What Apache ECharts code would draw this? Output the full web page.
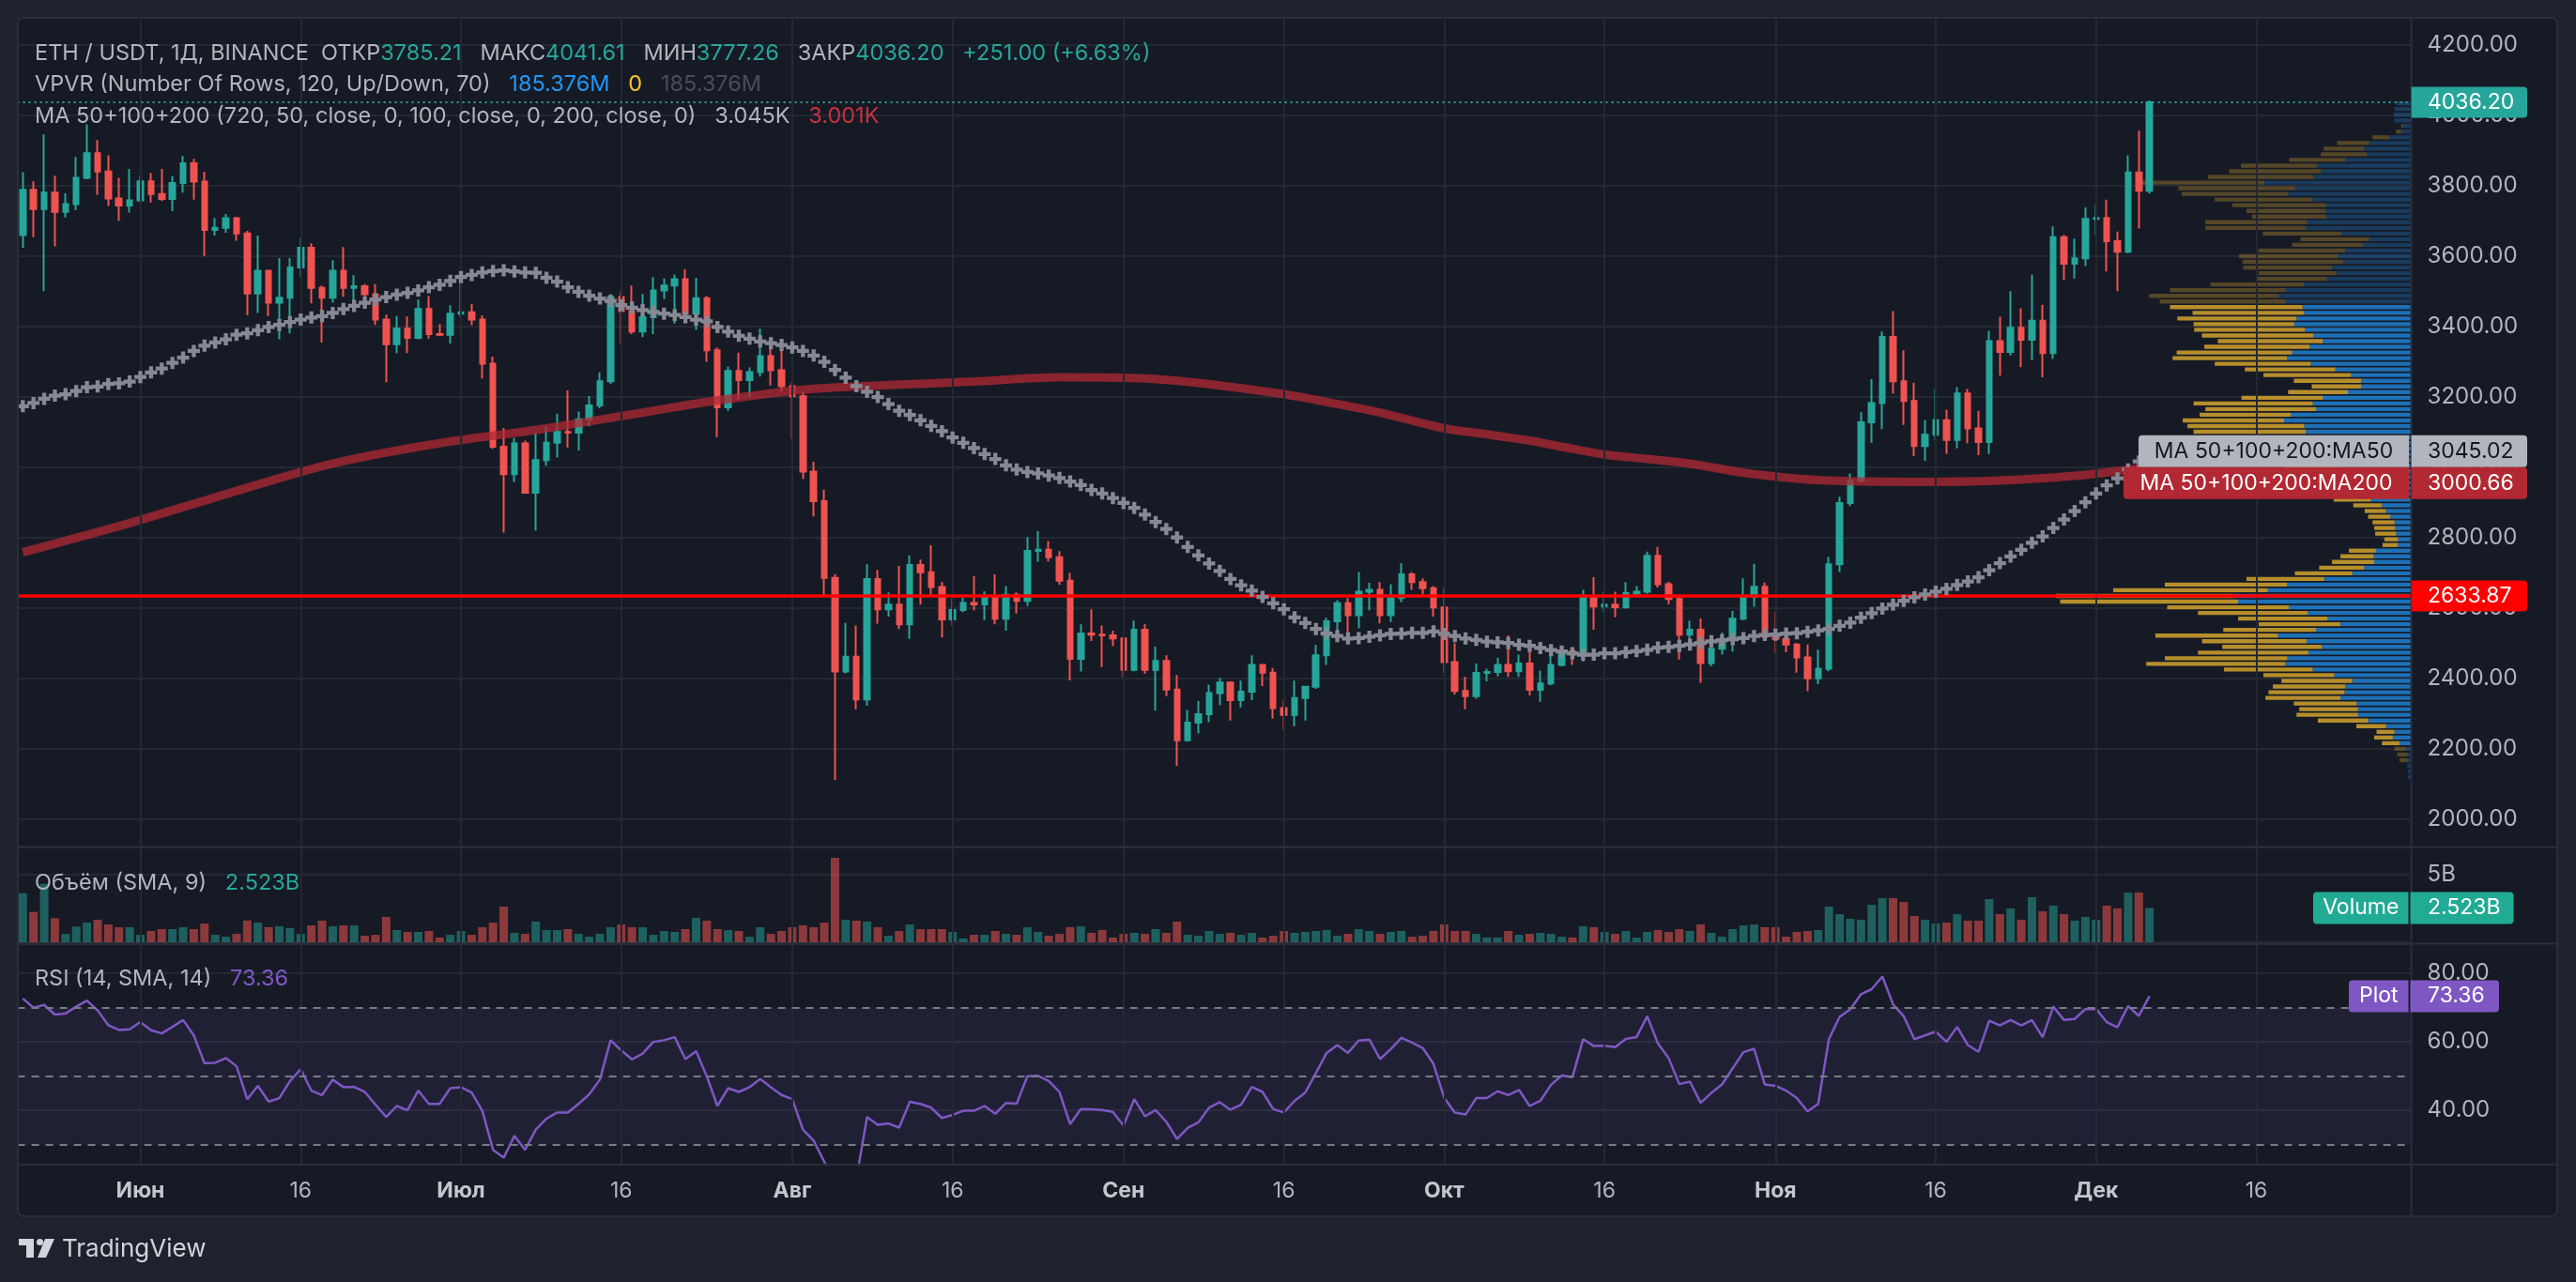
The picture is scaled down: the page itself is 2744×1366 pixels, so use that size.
<!DOCTYPE html>
<html>
<head>
<meta charset="utf-8">
<title>ETH / USDT</title>
<script src="https://cdn.jsdelivr.net/npm/echarts@6/dist/echarts.min.js"></script>
<style>
html, body { margin: 0; padding: 0; background: #1e222d; }
#chart { width: 2744px; height: 1366px; }
</style>
</head>
<body>
<div id="chart"></div>
<script>
var startDay = '2024-05-21';
var slotCount = 224;

var opens = [
    3659,3788,3733,3780,3725,3747,3822,3892,3840,3763, 3743,3758,3812,3776,3762,3807,3863,3811,3674,3680,
    3707,3664,3493,3558,3467,3481,3567,3623,3509,3481, 3558,3509,3514,3491,3419,3349,3394,3367,3449,3378,
    3376,3436,3440,3419,3294,3058,2980,3067,2927,3020, 3069,3100,3098,3136,3175,3244,3483,3443,3385,3426,
    3502,3516,3534,3436,3480,3332,3170,3273,3247,3270, 3315,3275,3230,3201,2987,2903,2685,2419,2461,2340,
    2682,2596,2609,2553,2722,2701,2659,2567,2594,2614, 2610,2629,2569,2637,2620,2762,2765,2744,2677,2455,
    2527,2524,2522,2513,2424,2538,2424,2449,2368,2224, 2274,2298,2358,2388,2338,2362,2438,2416,2315,2296,
    2344,2376,2465,2562,2613,2579,2646,2651,2579,2628, 2695,2673,2656,2601,2446,2364,2349,2415,2418,2438,
    2420,2442,2367,2385,2438,2477,2467,2628,2604,2609, 2602,2642,2646,2748,2667,2625,2524,2538,2443,2484,
    2511,2569,2631,2660,2518,2512,2496,2459,2400,2427, 2724,2898,2961,3127,3182,3370,3244,3188,3060,3092,
    3133,3077,3209,3110,3071,3358,3327,3396,3362,3416, 3324,3653,3578,3593,3705,3708,3642,3612,3837,3785.21
];
var highs = [
    3838,3812,3945,3828,3778,3881,3974,3929,3886,3822, 3847,3829,3836,3847,3827,3884,3876,3839,3708,3719,
    3711,3671,3658,3560,3594,3594,3652,3636,3516,3588, 3625,3545,3520,3520,3433,3429,3428,3476,3486,3406,
    3460,3527,3463,3431,3314,3111,3083,3075,3098,3116, 3152,3218,3158,3202,3269,3492,3499,3516,3492,3540,
    3536,3547,3562,3538,3486,3340,3285,3325,3283,3393, 3366,3347,3240,3214,3015,2936,2696,2557,2550,2724,
    2708,2644,2719,2749,2737,2778,2673,2627,2629,2690, 2647,2695,2662,2644,2801,2818,2790,2761,2700,2553,
    2596,2550,2535,2517,2564,2554,2490,2465,2409,2310, 2335,2382,2401,2391,2393,2465,2440,2429,2338,2393,
    2378,2495,2572,2622,2628,2702,2671,2673,2667,2727, 2702,2684,2662,2658,2500,2404,2442,2427,2458,2522,
    2467,2476,2422,2468,2489,2484,2651,2687,2646,2646, 2673,2662,2760,2773,2674,2634,2564,2570,2512,2530,
    2591,2684,2725,2672,2589,2527,2500,2496,2481,2745, 2916,2982,3156,3250,3385,3443,3332,3240,3133,3222,
    3163,3227,3222,3160,3387,3427,3500,3451,3547,3461, 3684,3660,3649,3738,3747,3760,3669,3886,3956,4041.61
];
var lows = [
    3623,3653,3500,3627,3709,3730,3818,3774,3742,3700, 3723,3752,3752,3756,3727,3780,3760,3600,3658,3666,
    3643,3432,3438,3429,3363,3380,3540,3465,3354,3467, 3484,3445,3474,3404,3241,3324,3324,3363,3365,3372,
    3351,3425,3403,3252,3052,2814,2958,2925,2820,3004, 3027,3056,3047,3116,3167,3236,3349,3378,3369,3378,
    3477,3408,3420,3390,3299,3085,3160,3191,3199,3257, 3232,3214,3080,2966,2860,2637,2111,2414,2312,2322,
    2555,2575,2540,2512,2609,2637,2516,2550,2588,2593, 2565,2553,2535,2584,2605,2731,2732,2666,2394,2419,
    2506,2432,2492,2403,2420,2413,2308,2349,2151,2220, 2243,2275,2323,2280,2317,2338,2378,2285,2253,2264,
    2280,2370,2438,2529,2522,2542,2593,2556,2560,2616, 2651,2638,2575,2415,2354,2311,2342,2391,2406,2404,
    2404,2351,2333,2380,2434,2438,2447,2538,2587,2573, 2598,2636,2640,2658,2610,2453,2512,2387,2434,2467,
    2476,2565,2603,2507,2471,2474,2416,2363,2383,2420, 2702,2889,2956,3069,3108,3209,3120,3031,3018,3077,
    3038,3053,3068,3034,3037,3260,3317,3284,3304,3255, 3307,3532,3536,3571,3660,3556,3500,3608,3678,3777.26
];
var closes = [
    3788,3733,3780,3725,3747,3822,3892,3840,3763,3743, 3758,3812,3776,3762,3807,3863,3811,3674,3680,3707,
    3664,3493,3558,3467,3481,3567,3623,3509,3481,3558, 3509,3514,3491,3419,3349,3394,3367,3449,3378,3376,
    3436,3440,3419,3294,3058,2980,3067,2927,3020,3069, 3100,3098,3136,3175,3244,3483,3443,3385,3426,3502,
    3516,3534,3436,3480,3332,3170,3273,3247,3270,3315, 3275,3230,3201,2987,2903,2685,2419,2461,2340,2682,
    2596,2609,2553,2722,2701,2659,2567,2594,2614,2610, 2629,2569,2637,2620,2762,2765,2744,2677,2455,2527,
    2524,2522,2513,2424,2538,2424,2449,2368,2224,2274, 2298,2358,2388,2338,2362,2438,2416,2315,2296,2344,
    2376,2465,2562,2613,2579,2646,2651,2579,2628,2695, 2673,2656,2601,2446,2364,2349,2415,2418,2438,2420,
    2442,2367,2385,2438,2477,2467,2628,2604,2609,2602, 2642,2646,2748,2667,2625,2524,2538,2443,2484,2511,
    2569,2631,2660,2518,2512,2496,2459,2400,2427,2724, 2898,2961,3127,3182,3370,3244,3188,3060,3092,3133,
    3077,3209,3110,3071,3358,3327,3396,3362,3416,3324, 3653,3578,3593,3705,3708,3642,3612,3837,3785.21,4036.20
];
// billions
var volumes = [
    3.62,2.24,4.31,1.77,0.62,1.15,1.45,1.66,1.31,1.11, 1.11,0.55,0.83,0.97,0.97,1.11,0.97,1.38,0.55,0.41,
    0.62,1.61,1.45,1.11,1.18,1.04,0.62,1.24,1.59,1.18, 1.24,1.24,0.48,0.55,1.87,0.90,0.76,0.76,0.83,0.35,
    0.55,0.83,0.55,1.11,1.45,2.63,0.69,0.62,1.52,0.90, 0.90,0.97,0.62,0.41,0.62,1.11,1.31,1.11,1.11,0.55,
    0.83,0.76,0.97,1.80,1.59,0.97,0.90,0.83,0.41,1.11, 0.62,0.83,1.11,1.24,1.11,1.45,6.22,1.66,1.59,1.52,
    1.11,0.48,0.83,1.31,0.97,0.97,0.97,0.76,0.28,0.55, 0.55,0.83,0.62,0.55,1.11,0.76,0.48,0.62,1.11,1.18,
    0.69,0.90,0.35,0.62,0.69,0.62,0.97,0.69,1.52,0.55, 0.48,0.83,0.62,0.69,0.55,0.69,0.35,0.48,0.83,0.69,
    0.76,0.83,0.90,0.48,0.62,0.97,0.83,0.62,0.76,0.83, 0.41,0.48,0.83,1.31,0.83,0.83,0.62,0.35,0.35,0.83,
    0.55,0.62,0.69,0.62,0.41,0.35,1.18,1.11,0.76,0.62, 0.83,0.35,0.76,0.90,0.76,0.97,0.83,1.31,0.69,0.41,
    0.97,1.24,1.31,1.11,1.11,0.41,0.76,0.83,0.90,2.63, 2.07,1.73,1.66,2.76,3.25,3.25,2.97,1.94,1.66,1.38,
    1.45,2.07,1.59,1.59,3.18,2.07,2.49,1.66,3.32,2.28, 2.70,2.07,1.59,1.87,1.66,2.70,2.49,3.66,3.66,2.523
];
var rsiValues = [
    72.7,70.0,70.8,68.0,68.3,70.3,72.1,69.2,64.9,63.5, 63.7,65.8,63.4,62.5,64.4,66.4,61.9,53.8,53.9,55.3,
    52.9,43.3,47.2,42.6,43.6,48.6,52.0,45.8,44.5,49.0, 46.8,46.9,45.4,41.7,38.1,41.3,40.1,45.8,41.9,41.9,
    46.5,46.8,45.2,39.9,28.5,26.2,32.6,28.5,34.4,37.6, 39.4,39.4,41.9,44.7,49.0,60.5,57.5,54.9,56.6,60.0,
    60.5,61.4,55.0,57.3,50.0,41.3,46.5,45.4,46.8,49.2, 46.8,44.5,43.3,34.4,31.2,25.0,19.0,21.5,20.0,38.1,
    35.8,36.2,35.0,42.5,41.9,40.8,37.8,38.7,39.9,39.9, 41.3,39.0,42.2,42.0,50.0,50.1,48.6,45.4,36.0,40.4,
    40.3,40.1,39.6,35.6,43.3,38.3,40.1,36.7,31.7,34.9, 36.5,40.8,42.4,40.2,41.7,46.9,45.4,40.4,39.4,42.8,
    45.2,50.9,56.8,59.1,56.8,60.4,60.7,55.0,57.9,61.2, 59.8,58.2,53.6,43.7,39.4,38.8,43.6,43.6,45.6,44.5,
    46.0,41.3,42.8,47.5,50.2,49.7,60.8,58.8,58.9,58.5, 60.9,61.4,67.5,59.6,55.3,47.7,48.4,42.2,45.1,47.6,
    52.3,57.0,58.0,47.6,47.2,45.8,43.6,39.7,41.9,60.8, 67.3,69.5,73.9,75.4,79.1,71.0,67.5,60.8,61.9,63.0,
    60.0,64.4,59.1,57.1,66.2,64.8,66.4,64.8,66.4,61.4, 70.3,66.4,66.7,69.6,69.6,65.8,64.3,70.5,67.6,73.36
];
var ma50Values = [
    3173,3182,3194,3203,3207,3216,3227,3229,3236,3238, 3243,3256,3269,3280,3296,3311,3330,3345,3354,3363,
    3376,3380,3389,3398,3404,3412,3419,3425,3429,3438, 3449,3458,3467,3476,3483,3490,3495,3502,3511,3518,
    3529,3540,3546,3553,3557,3559,3556,3553,3552,3538, 3527,3511,3498,3487,3479,3472,3460,3453,3446,3441,
    3436,3432,3426,3419,3414,3398,3385,3373,3365,3357, 3352,3347,3340,3330,3317,3299,3276,3254,3230,3214,
    3199,3179,3160,3148,3133,3117,3102,3084,3069,3054, 3037,3023,3005,2993,2986,2982,2976,2969,2959,2949,
    2935,2925,2912,2898,2884,2865,2844,2824,2800,2773, 2749,2726,2705,2682,2664,2649,2631,2613,2596,2573,
    2557,2540,2527,2520,2513,2514,2518,2522,2526,2527, 2529,2529,2533,2526,2520,2513,2509,2504,2502,2500,
    2495,2492,2486,2480,2476,2471,2467,2467,2471,2471, 2474,2477,2481,2487,2489,2492,2496,2500,2505,2508,
    2511,2514,2520,2523,2524,2527,2528,2532,2536,2540, 2549,2558,2572,2585,2598,2609,2620,2630,2638,2646,
    2654,2665,2675,2687,2707,2727,2746,2765,2785,2803, 2827,2851,2875,2900,2925,2948,2968,2993,3016,3045.02
];
// [day index, value]
var ma200Points = [
    [0,2758],[10,2841],[19,2923],[29,3010],[39,3068],[49,3110],[59,3160],[64,3185],[73,3220],[81,3233],
    [89,3243],[97,3255],[103,3254],[107,3248],[112,3232],[118,3207],[122,3185],[127,3155],[133,3110],[137,3093],
    [141,3075],[145,3052],[148,3036],[152,3023],[156,3010],[161,2984],[168,2963],[177,2958],[185,2962],[192,2975],
    [199,3000.66]
];
// volume profile rows, bottom to top
var vpUp = [
    10,10,12,10,12,15,35,55,50,75, 128,158,158,162,210,198,195,175,228,292,
    374,367,305,265,310,395,282,210,248,307, 363,513,528,425,368,258,175,140,110,112,
    105,40,40,45,48,50,62,75,87,120, 135,150,165,175,185,210,200,220,240,260,
    280,313,317,377,357,282,292,262,188,148, 148,178,225,298,368,353,302,262,290,315,
    347,340,318,322,372,392,372,318,250,222, 235,202,218,195,142,125,208,312,308,252,
    255,252,292,365,345,435,290,268,280,195, 132,140,125,65,30,25,50,52,50,45
];
var vpDown = [
    0,0,0,25,30,35,52,55,53,88, 149,182,174,186,222,225,215,210,210,263,
    411,363,327,295,310,363,275,242,265,325, 360,527,524,458,362,230,170,133,125,98,
    80,45,40,62,62,65,66,63,85,110, 125,130,135,145,155,170,160,180,200,220,
    238,332,346,300,270,328,353,241,177,147, 200,260,268,284,339,342,311,311,330,328,
    298,353,330,393,373,385,343,277,205,230, 263,298,292,258,211,203,232,298,302,220,
    233,278,290,315,345,365,312,272,225,167, 136,120,95,50,15,5,0,0,0,0
];
var vpLow = 2111.0;
var vpHigh = 4041.61;
var vpValueArea = [6, 83];

var timeTicks = [
    ['2024-06-01', 'Июн'], ['2024-06-16', '16'], ['2024-07-01', 'Июл'], ['2024-07-16', '16'],
    ['2024-08-01', 'Авг'], ['2024-08-16', '16'], ['2024-09-01', 'Сен'], ['2024-09-16', '16'],
    ['2024-10-01', 'Окт'], ['2024-10-16', '16'], ['2024-11-01', 'Ноя'], ['2024-11-16', '16'],
    ['2024-12-01', 'Дек'], ['2024-12-16', '16']
];
var supportLevel = 2633.87;
var rsiBands = [70, 50, 30];
var dayChange = '+251.00 (+6.63%)';

var FONT = 'Inter, "Noto Sans", sans-serif';
var UP = '#26a69a', DOWN = '#ef5350';
var GRID = '#242833', SEP = '#2a2e39', TXT = '#b2b5be';
var PL = 18.6, PR = 2568.6;
var PRICE_MIN = 1921.83, PRICE_MAX = 4276.5;
var LEG = 23.5;

function buildDates(start, n) {
    var out = [];
    var t = Date.parse(start + 'T00:00:00Z');
    for (var i = 0; i < n; i++) {
        out.push(new Date(t + i * 86400000).toISOString().slice(0, 10));
    }
    return out;
}
var dates = buildDates(startDay, slotCount);
var tickMap = {};
timeTicks.forEach(function (t) { tickMap[t[0]] = t[1]; });
var last = closes.length - 1;

var candleData = opens.map(function (o, i) { return [o, closes[i], lows[i], highs[i]]; });
var volumeData = volumes.map(function (v, i) {
    return {value: v, itemStyle: {color: closes[i] >= opens[i] ? 'rgba(38,166,154,0.5)' : 'rgba(239,83,80,0.55)'}};
});

var vpStep = (vpHigh - vpLow) / vpUp.length;
var vpRows = vpUp.map(function (u, k) {
    var lo = vpLow + k * vpStep;
    return [k, u, vpDown[k], lo, lo + vpStep, (k >= vpValueArea[0] && k <= vpValueArea[1]) ? 1 : 0];
});
var vpMax = Math.max.apply(null, vpUp.map(function (u, k) { return u + vpDown[k]; }));

function renderProfile(params, api) {
    var up = api.value(1), dn = api.value(2), lo = api.value(3), hi = api.value(4), va = api.value(5);
    var right = api.coord([0, hi]);
    var bottom = api.coord([0, lo]);
    var rowH = bottom[1] - right[1];
    var h = rowH * 0.72;
    var y = right[1] + (rowH - h) / 2;
    var xUp = api.coord([up, hi])[0];
    var xAll = api.coord([up + dn, hi])[0];
    return {
        type: 'group',
        children: [
            {type: 'rect', shape: {x: xUp, y: y, width: right[0] - xUp, height: h},
                style: {fill: va ? 'rgba(33,150,243,0.7)' : 'rgba(33,150,243,0.27)'}},
            {type: 'rect', shape: {x: xAll, y: y, width: xUp - xAll, height: h},
                style: {fill: va ? 'rgba(251,192,45,0.7)' : 'rgba(251,192,45,0.27)'}}
        ]
    };
}

function timeAxis(gridIndex, withLabels) {
    return {
        type: 'category', gridIndex: gridIndex, data: dates, boundaryGap: true,
        axisLine: {show: false}, axisTick: {show: false}, splitLine: {show: false},
        axisLabel: withLabels ? {
            show: true, margin: 17,
            interval: function (idx, val) { return tickMap.hasOwnProperty(val); },
            formatter: function (val) {
                var t = tickMap[val];
                return /^\d+$/.test(t) ? '{n|' + t + '}' : '{m|' + t + '}';
            },
            rich: {
                m: {fontFamily: FONT, fontSize: 23, fontWeight: 'bold', color: '#c3c6ce'},
                n: {fontFamily: FONT, fontSize: 23, color: TXT}
            }
        } : {show: false}
    };
}

function valueAxis(gridIndex, opts) {
    var ax = {
        type: 'value', gridIndex: gridIndex, position: 'right',
        axisLine: {show: false}, axisTick: {show: false},
        splitLine: {show: true, lineStyle: {color: GRID, width: 2}},
        axisLabel: {
            show: true, margin: 17, color: TXT, fontFamily: FONT, fontSize: 24,
            showMinLabel: false, showMaxLabel: false
        }
    };
    for (var k in opts) {
        if (k === 'formatter') ax.axisLabel.formatter = opts[k];
        else ax[k] = opts[k];
    }
    return ax;
}

function gridLines(xi, yi) {
    return {
        type: 'line', xAxisIndex: xi, yAxisIndex: yi, z: 1, data: [], silent: true,
        markLine: {
            silent: true, animation: false, symbol: ['none', 'none'], label: {show: false},
            lineStyle: {color: GRID, width: 2, type: 'solid'},
            data: timeTicks.map(function (t) { return {xAxis: t[0]}; })
        }
    };
}

var chart = echarts.init(document.getElementById('chart'));
var option = {
    backgroundColor: '#161a25',
    animation: false,
    textStyle: {fontFamily: FONT},
    grid: [
        {left: PL, width: PR - PL, top: 19, height: 883, outerBoundsMode: 'none'},
        {left: PL, width: PR - PL, top: 903, height: 101, outerBoundsMode: 'none'},
        {left: PL, width: PR - PL, top: 1006, height: 234.7, outerBoundsMode: 'none'},
        {left: PR - 378.4, width: 378.4, top: 19, height: 883, outerBoundsMode: 'none'}
    ],
    xAxis: [
        timeAxis(0, false),
        timeAxis(1, false),
        timeAxis(2, true),
        {type: 'value', gridIndex: 3, min: 0, max: vpMax, inverse: true, show: false}
    ],
    yAxis: [
        valueAxis(0, {min: PRICE_MIN, max: PRICE_MAX, splitNumber: 12,
            formatter: function (v) { return v.toFixed(2); }}),
        valueAxis(1, {min: 0, max: 6.985, interval: 5,
            formatter: function (v) { return v + 'B'; }}),
        valueAxis(2, {min: 24.25, max: 88.55, splitNumber: 3,
            formatter: function (v) { return v.toFixed(2); }}),
        {type: 'value', gridIndex: 3, min: PRICE_MIN, max: PRICE_MAX, show: false}
    ],
    series: [
        gridLines(0, 0),
        gridLines(1, 1),
        gridLines(2, 2),
        {
            type: 'custom', xAxisIndex: 3, yAxisIndex: 3, z: 1, silent: true,
            data: vpRows, encode: {x: 1, y: 3}, renderItem: renderProfile
        },
        {
            name: 'ETH / USDT', type: 'candlestick', xAxisIndex: 0, yAxisIndex: 0, z: 3,
            barWidth: 6,
            itemStyle: {color: UP, color0: DOWN, borderColor: UP, borderColor0: DOWN, borderWidth: 2},
            data: candleData
        },
        {
            name: 'MA200', type: 'line', xAxisIndex: 0, yAxisIndex: 0, z: 4, silent: true,
            data: ma200Points, smooth: 0.3, showSymbol: false,
            lineStyle: {color: 'rgba(178,40,51,0.75)', width: 9}
        },
        {
            name: 'MA50', type: 'line', xAxisIndex: 0, yAxisIndex: 0, z: 5, silent: true,
            data: ma50Values, showSymbol: true, showAllSymbol: true,
            symbol: 'path://M4,0H8V4H12V8H8V12H4V8H0V4H4Z', symbolSize: 13,
            itemStyle: {color: '#868993'}, lineStyle: {width: 0, opacity: 0}
        },
        {
            type: 'line', xAxisIndex: 0, yAxisIndex: 0, z: 6, data: [], silent: true,
            markLine: {
                silent: true, animation: false, symbol: ['none', 'none'], label: {show: false},
                data: [
                    {yAxis: supportLevel, lineStyle: {color: '#ff0000', width: 3.5, type: 'solid'}},
                    {yAxis: closes[last], lineStyle: {color: UP, width: 2, type: [2, 4]}}
                ]
            }
        },
        {
            name: 'Volume', type: 'bar', xAxisIndex: 1, yAxisIndex: 1, z: 2, barWidth: 9,
            data: volumeData
        },
        {
            type: 'line', xAxisIndex: 2, yAxisIndex: 2, z: 1, data: [], silent: true,
            markArea: {
                silent: true, animation: false,
                itemStyle: {color: 'rgba(126,87,194,0.1)'},
                data: [[{yAxis: rsiBands[2]}, {yAxis: rsiBands[0]}]]
            },
            markLine: {
                silent: true, animation: false, symbol: ['none', 'none'], label: {show: false},
                lineStyle: {color: '#787b86', width: 2, type: [8, 7]},
                data: rsiBands.map(function (b) { return {yAxis: b}; })
            }
        },
        {
            name: 'RSI', type: 'line', xAxisIndex: 2, yAxisIndex: 2, z: 3, silent: true,
            data: rsiValues, showSymbol: false,
            lineStyle: {color: '#7e57c2', width: 2.5}
        }
    ]
};
chart.setOption(option);

function tag(x1, x2, yc, h, fill, text, color, leftAt, r) {
    return [
        {type: 'rect', z: 60, shape: {x: x1, y: yc - h / 2, width: x2 - x1, height: h, r: r}, style: {fill: fill}},
        {type: 'text', z: 61, x: leftAt != null ? leftAt : (x1 + x2) / 2, y: yc,
            style: {text: text, fill: color, fontSize: 23, fontFamily: FONT,
                align: leftAt != null ? 'left' : 'center', verticalAlign: 'middle'}}
    ];
}
function legend(x, y, text, rich) {
    return {type: 'text', z: 70, x: x, y: y,
        style: {text: text, rich: rich, fontSize: LEG, fontFamily: FONT, fill: TXT, verticalAlign: 'middle'}};
}
function rs(fill) { return {fill: fill, fontSize: LEG, fontFamily: FONT}; }

var py = function (v) { return chart.convertToPixel({yAxisIndex: 0}, v); };
var yClose = py(closes[last]);
var yMa50 = py(ma50Values[last]);
var yMa200 = Math.max(py(ma200Points[ma200Points.length - 1][1]), yMa50 + 34);
var ySupport = py(supportLevel);
var yVol = chart.convertToPixel({yAxisIndex: 1}, volumes[last]);
var yRsi = chart.convertToPixel({yAxisIndex: 2}, rsiValues[last]);

var els = [];
// outer frame
els.push({type: 'rect', z: 50, shape: {x: 0, y: 0, width: 2744, height: 19}, style: {fill: '#1e222d'}});
els.push({type: 'rect', z: 50, shape: {x: 0, y: 0, width: 19, height: 1366}, style: {fill: '#1e222d'}});
els.push({type: 'rect', z: 50, shape: {x: 2724, y: 0, width: 20, height: 1366}, style: {fill: '#1e222d'}});
els.push({type: 'rect', z: 50, shape: {x: 0, y: 1296, width: 2744, height: 70}, style: {fill: '#1e222d'}});
els.push({type: 'rect', z: 51, shape: {x: 19, y: 19, width: 2705, height: 1277, r: 6},
    style: {fill: 'transparent', stroke: SEP, lineWidth: 2}});
// pane separators
[902.7, 1005.5, 1240.7].forEach(function (y) {
    els.push({type: 'line', z: 51, shape: {x1: 19, y1: y, x2: 2724, y2: y}, style: {stroke: SEP, lineWidth: 2}});
});
els.push({type: 'line', z: 51, shape: {x1: PR, y1: 19, x2: PR, y2: 1296}, style: {stroke: SEP, lineWidth: 2}});

// legends
els.push(legend(37, 57,
    '{t|ETH / USDT, 1Д, BINANCE  ОТКР}{v|' + opens[last].toFixed(2) + '}{t|   МАКС}{v|' + highs[last].toFixed(2) +
    '}{t|   МИН}{v|' + lows[last].toFixed(2) + '}{t|   ЗАКР}{v|' + closes[last].toFixed(2) + '}{t|   }{v|' +
    dayChange + '}',
    {t: rs(TXT), v: rs(UP)}));
els.push(legend(37, 90,
    '{t|VPVR (Number Of Rows, 120, Up/Down, 70)   }{b|185.376M}{t|   }{y|0}{t|   }{g|185.376M}',
    {t: rs(TXT), b: rs('#2196f3'), y: rs('#fbc02d'), g: rs('#4a4d57')}));
els.push(legend(37, 123.5,
    '{t|MA 50+100+200 (720, 50, close, 0, 100, close, 0, 200, close, 0)   3.045K   }{r|3.001K}',
    {t: rs(TXT), r: rs('#c9303e')}));
els.push(legend(37, 941, '{t|Объём (SMA, 9)   }{v|' + volumes[last].toFixed(3) + 'B}', {t: rs(TXT), v: rs(UP)}));
els.push(legend(37, 1043, '{t|RSI (14, SMA, 14)   }{v|' + rsiValues[last].toFixed(2) + '}', {t: rs(TXT), v: rs('#7e57c2')}));

// price scale tags
els = els.concat(tag(PR, 2692, yClose, 33, UP, closes[last].toFixed(2), '#ffffff', 2586, [0, 4, 4, 0]));
els = els.concat(tag(2278, 2566, yMa50, 34, '#b2b5be', 'MA 50+100+200:MA50', '#131722', null, [4, 0, 0, 4]));
els = els.concat(tag(PR, 2692, yMa50, 34, '#b2b5be', ma50Values[last].toFixed(2), '#131722', 2586, [0, 4, 4, 0]));
els = els.concat(tag(2262, 2566, yMa200, 34, '#b22833', 'MA 50+100+200:MA200', '#ffffff', null, [4, 0, 0, 4]));
els = els.concat(tag(PR, 2692, yMa200, 34, '#b22833', ma200Points[ma200Points.length - 1][1].toFixed(2), '#ffffff', 2586, [0, 4, 4, 0]));
els = els.concat(tag(PR, 2692, ySupport, 33, '#ff0000', supportLevel.toFixed(2), '#ffffff', 2586, [0, 4, 4, 0]));
els = els.concat(tag(2464, 2565.5, yVol, 34, '#22ab94', 'Volume', '#ffffff', null, [4, 0, 0, 4]));
els = els.concat(tag(2567.5, 2677.6, yVol, 34, '#22ab94', volumes[last].toFixed(3) + 'B', '#ffffff', 2586, [0, 4, 4, 0]));
els = els.concat(tag(2502, 2565.5, yRsi, 34, '#7e57c2', 'Plot', '#ffffff', null, [4, 0, 0, 4]));
els = els.concat(tag(2567.5, 2662, yRsi, 34, '#7e57c2', rsiValues[last].toFixed(2), '#ffffff', 2586, [0, 4, 4, 0]));

// TradingView mark
els.push({type: 'polygon', z: 70, shape: {points: [[20, 1320], [36, 1320], [36, 1340], [28, 1340], [28, 1327], [20, 1327]]}, style: {fill: '#d1d4dc'}});
els.push({type: 'circle', z: 70, shape: {cx: 42.5, cy: 1323.5, r: 3.6}, style: {fill: '#d1d4dc'}});
els.push({type: 'polygon', z: 70, shape: {points: [[48, 1320], [58, 1320], [49, 1340], [40, 1340]]}, style: {fill: '#d1d4dc'}});
els.push({type: 'text', z: 70, x: 66, y: 1331, style: {text: 'TradingView', fill: '#d1d4dc', fontSize: 26,
    fontFamily: FONT, verticalAlign: 'middle'}});

chart.setOption({graphic: {elements: els}});

window.onresize = function () {
    chart.resize();
};
</script>
</body>
</html>
